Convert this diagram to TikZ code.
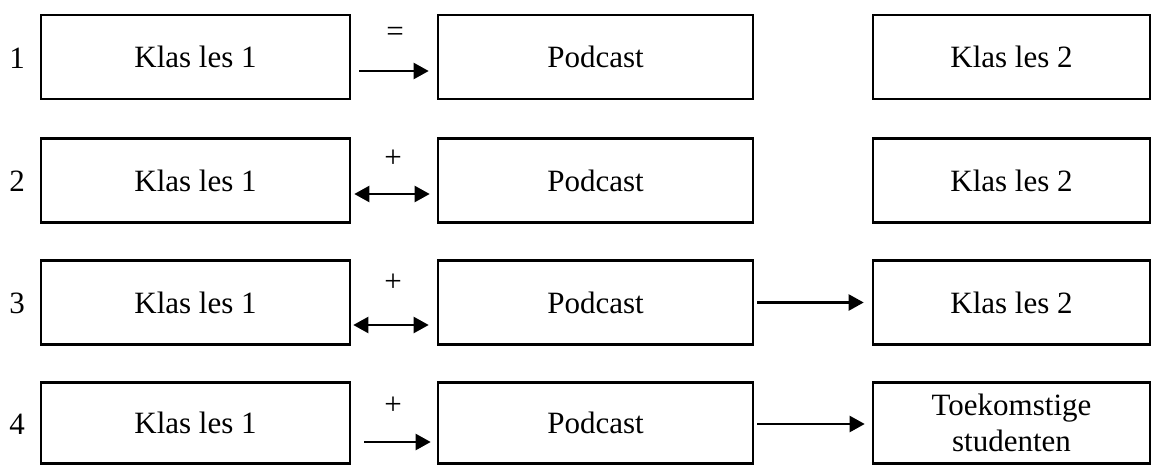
\documentclass[tikz,border=0pt]{standalone}
\usepackage{fontspec}
\setmainfont{Liberation Serif}
\usetikzlibrary{arrows.meta}
\begin{document}
\begin{tikzpicture}[x=1pt,y=-1pt,
  box/.style={draw,line width=2.6pt,minimum height=84pt,inner sep=0pt,align=center,font=\fontsize{31}{36}\selectfont},
  lbox/.style={box,minimum width=309pt},
  pbox/.style={box,minimum width=315pt},
  rbox/.style={box,minimum width=277pt},
  num/.style={font=\fontsize{31}{36}\selectfont,inner sep=0pt},
  sym/.style={font=\fontsize{31}{36}\selectfont,inner sep=0pt},
  arr/.style={line width=2.2pt,-{Triangle[length=15pt,width=16pt]}},
  darr/.style={line width=2.2pt,{Triangle[length=15pt,width=16pt]}-{Triangle[length=15pt,width=16pt]}}]
\useasboundingbox (0,0) rectangle (1152,464);
% row 1
\node[num] (n1) at (17,58) {1};
\node[lbox] (a1) at (195.5,57) {Klas les 1};
\node[pbox] (b1) at (595.5,57) {Podcast};
\node[rbox] (c1) at (1011.5,57) {Klas les 2};
\draw[arr] ([xshift=8pt,yshift=-14pt]a1.east) -- ([xshift=-8pt,yshift=-14pt]b1.west);
\node[sym] (s1) at (395,34) {=};
% row 2
\node[num] (n2) at (17,181) {2};
\node[lbox] (a2) at (195.5,180.5) {Klas les 1};
\node[pbox] (b2) at (595.5,180.5) {Podcast};
\node[rbox] (c2) at (1011.5,180.5) {Klas les 2};
\draw[darr] ([xshift=3pt,yshift=-13.5pt]a2.east) -- ([xshift=-7pt,yshift=-13.5pt]b2.west);
\node[sym] (s2) at (393,159) {+};
% row 3
\node[num] (n3) at (17,303) {3};
\node[lbox] (a3) at (195.5,302.5) {Klas les 1};
\node[pbox] (b3) at (595.5,302.5) {Podcast};
\node[rbox] (c3) at (1011.5,302.5) {Klas les 2};
\draw[darr] ([xshift=2pt,yshift=-22.5pt]a3.east) -- ([xshift=-8pt,yshift=-22.5pt]b3.west);
\node[sym] (s3) at (393,283) {+};
\draw[arr] ([xshift=3pt]b3.east) -- ([xshift=-8pt]c3.west);
% row 4
\node[num] (n4) at (17,424) {4};
\node[lbox,minimum height=81pt] (a4) at (195.5,423) {Klas les 1};
\node[pbox,minimum height=81pt] (b4) at (595.5,423) {Podcast};
\node[rbox,minimum height=81pt] (c4) at (1011.5,423) {\raisebox{0pt}[0pt][0pt]{}Toekomstige\\studenten};
\draw[arr] ([xshift=13pt,yshift=-19pt]a4.east) -- ([xshift=-6pt,yshift=-19pt]b4.west);
\node[sym] (s4) at (393,406) {+};
\draw[arr] ([xshift=3pt,yshift=-1pt]b4.east) -- ([xshift=-7pt,yshift=-1pt]c4.west);
\end{tikzpicture}
\end{document}
